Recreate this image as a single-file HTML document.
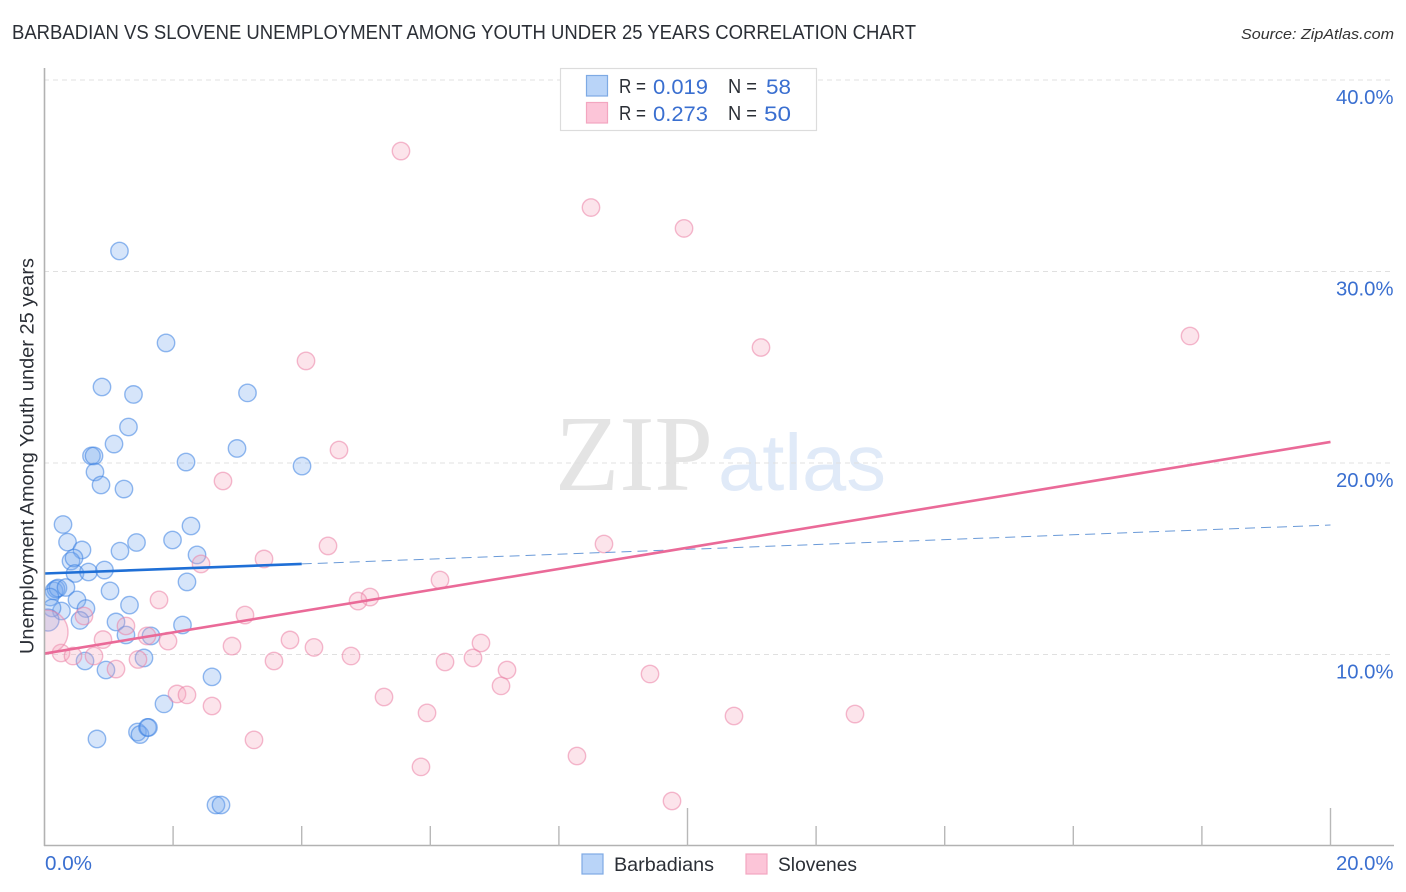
<!DOCTYPE html>
<html lang="en">
<head>
<meta charset="utf-8">
<title>Barbadian vs Slovene Unemployment Correlation Chart</title>
<style>
html,body{margin:0;padding:0;background:#fff;width:1406px;height:892px;overflow:hidden}
svg{display:block;font-family:"Liberation Sans",sans-serif}
</style>
</head>
<body>
<svg id="chart" width="1406" height="892" viewBox="0 0 1406 892" xmlns="http://www.w3.org/2000/svg">
  <defs><clipPath id="plot-clip"><rect x="45" y="60" width="1350" height="785"/></clipPath></defs>
  <text x="12" y="39" font-size="20" fill="#2b2f36" textLength="904" lengthAdjust="spacingAndGlyphs">BARBADIAN VS SLOVENE UNEMPLOYMENT AMONG YOUTH UNDER 25 YEARS CORRELATION CHART</text>
  <text x="1241" y="39" font-size="15" font-style="italic" fill="#333" textLength="153" lengthAdjust="spacingAndGlyphs">Source: ZipAtlas.com</text>
  <text x="555" y="490" font-family="'Liberation Serif',serif" font-size="108" fill="#e4e4e4" textLength="158" lengthAdjust="spacingAndGlyphs">ZIP</text>
  <text x="718" y="490" font-size="80" fill="#e0eaf8" textLength="168" lengthAdjust="spacingAndGlyphs">atlas</text>
  <g id="grid"></g>
  <g id="points" clip-path="url(#plot-clip)"></g>
  <g id="lines"></g>
  <line x1="44.5" y1="68" x2="44.5" y2="846" stroke="#b2b2b2" stroke-width="1.6"/>
  <line x1="44" y1="845.5" x2="1394" y2="845.5" stroke="#b2b2b2" stroke-width="1.6"/>
  <g id="ticks"></g>
  <text transform="translate(33.5,654) rotate(-90)" font-size="19" fill="#2b2f36" textLength="396" lengthAdjust="spacingAndGlyphs">Unemployment Among Youth under 25 years</text>

  <g>
    <rect x="560.5" y="68.5" width="256" height="62" fill="#fff" stroke="#dcdcdc" stroke-width="1.2"/>
    <rect x="586.5" y="75.5" width="21" height="20.5" fill="#b9d4f8" stroke="#7eaae4" stroke-width="1.2"/>
    <rect x="586.5" y="102.5" width="21" height="20.5" fill="#fcc5d8" stroke="#f3a6c0" stroke-width="1.2"/>
    <g font-size="20" fill="#2b2f36">
      <text x="619" y="93" textLength="27" lengthAdjust="spacingAndGlyphs">R =</text>
      <text x="728" y="93" textLength="29" lengthAdjust="spacingAndGlyphs">N =</text>
      <text x="619" y="120" textLength="27" lengthAdjust="spacingAndGlyphs">R =</text>
      <text x="728" y="120" textLength="29" lengthAdjust="spacingAndGlyphs">N =</text>
    </g>
    <g font-size="21" fill="#3a6fd0">
      <text x="653" y="94" textLength="55" lengthAdjust="spacingAndGlyphs">0.019</text>
      <text x="766" y="94" textLength="25" lengthAdjust="spacingAndGlyphs">58</text>
      <text x="653" y="121" textLength="55" lengthAdjust="spacingAndGlyphs">0.273</text>
      <text x="764" y="121" textLength="27" lengthAdjust="spacingAndGlyphs">50</text>
    </g>
  </g>

  <g>
    <rect x="582" y="854" width="21" height="20" fill="#b9d4f8" stroke="#7eaae4" stroke-width="1.2"/>
    <text x="614" y="871" font-size="19.5" fill="#2b2f36" textLength="100" lengthAdjust="spacingAndGlyphs">Barbadians</text>
    <rect x="746" y="854" width="21" height="20" fill="#fcc5d8" stroke="#f3a6c0" stroke-width="1.2"/>
    <text x="778" y="871" font-size="19.5" fill="#2b2f36" textLength="79" lengthAdjust="spacingAndGlyphs">Slovenes</text>
  </g>
</svg>
<script>
const blueX = [1.166,1.890,0.894,1.384,3.157,1.306,1.081,0.731,0.770,2.994,2.201,4.005,0.785,0.879,1.236,0.288,2.278,0.358,0.583,1.174,1.431,1.991,2.372,0.412,0.459,0.474,0.684,0.933,2.216,0.148,0.179,0.210,0.334,1.019,0.086,0.505,1.322,0.264,0.645,0.117,0.054,0.552,1.112,2.146,1.267,1.656,1.547,0.630,0.956,2.605,1.858,0.816,1.446,1.485,1.602,1.617,2.667,2.745];
const blueY = [31.07,26.27,23.97,23.58,23.66,21.88,20.99,20.37,20.37,20.76,20.05,19.84,19.53,18.85,18.64,16.79,16.71,15.87,15.46,15.40,15.85,15.98,15.20,14.88,15.04,14.23,14.31,14.41,13.79,13.32,13.42,13.47,13.50,13.32,13.00,12.85,12.58,12.27,12.40,12.43,11.80,11.78,11.70,11.54,11.02,10.97,9.82,9.66,9.19,8.83,7.42,5.59,5.95,5.82,6.19,6.19,2.14,2.14];
const pinkX = [5.544,8.499,9.946,17.815,11.143,4.067,4.580,2.776,8.701,4.409,3.414,2.434,6.151,5.062,4.876,1.781,3.118,0.614,1.267,3.818,6.788,1.594,1.921,0.910,2.916,4.191,0.257,0.443,0.770,4.767,3.569,6.229,6.664,1.454,1.112,7.193,9.417,7.100,2.061,2.216,5.280,2.605,5.949,10.723,12.605,3.258,8.281,5.855,9.759,0.023];
const pinkY = [36.29,33.34,32.25,26.63,26.03,25.33,20.68,19.06,15.77,15.67,14.99,14.73,13.89,13.00,12.79,12.85,12.06,12.01,11.49,10.76,10.60,10.97,10.70,10.78,10.44,10.37,10.08,9.92,9.92,9.92,9.66,9.61,9.82,9.74,9.24,9.19,8.98,8.36,7.94,7.89,7.78,7.31,6.95,6.79,6.89,5.54,4.70,4.13,2.35,11.17];
const blueHeavyIndex = 40;
const blueHeavyWeight = 1.6;
const pinkHeavyIndex = 49;
const pinkHeavyWeight = 6.4;
const blueFitX = [0, 4, 20];
const blueFitY = [14.23, 14.73, 16.76];
const pinkFitX = [0, 20];
const pinkFitY = [10.05, 21.10];
const yTickValues = [10, 20, 30, 40];
const yTickLabels = ["10.0%", "20.0%", "30.0%", "40.0%"];
const xTickValues = [2, 4, 6, 8, 10, 12, 14, 16, 18, 20];
const xMajorTicks = [10, 20];
const xEdgeValues = [0, 20];
const xEdgeLabels = ["0.0%", "20.0%"];

const NS = "http://www.w3.org/2000/svg";
const xScale = v => 44.5 + v * 64.3;
const yScale = v => 846 - v * 19.15;
const radius = w => 8.7 * Math.sqrt(w);

function make(tag, parent, attrs, text) {
  const el = document.createElementNS(NS, tag);
  for (const k in attrs) el.setAttribute(k, attrs[k]);
  if (text !== undefined) el.textContent = text;
  document.getElementById(parent).appendChild(el);
  return el;
}

yTickValues.forEach((v, i) => {
  const grid = make("line", "grid", {x1: 44, x2: 1394, y1: yScale(v), y2: yScale(v), stroke: "#e0e0e0", "stroke-width": 1, "stroke-dasharray": "5 4"});
  
  
  const label = make("text", "ticks", {x: 1336, y: yScale(v) + 24, "font-size": 20, fill: "#3a6fd0", textLength: 57.5, lengthAdjust: "spacingAndGlyphs"}, yTickLabels[i]);
  
  
});

xTickValues.forEach(v => {
  const top = xMajorTicks.includes(v) ? 808 : 826;
  const tick = make("line", "ticks", {x1: xScale(v), x2: xScale(v), y1: top, y2: 846, stroke: "#b8b8b8", "stroke-width": 1.4});
  
  
});

xEdgeValues.forEach((v, i) => {
  const label = make("text", "ticks", {x: v === 0 ? 45 : 1336, y: 870, "font-size": 20, fill: "#3a6fd0", textLength: v === 0 ? 47 : 57.5, lengthAdjust: "spacingAndGlyphs"}, xEdgeLabels[i]);
  
  
});

blueX.forEach((v, i) => {
  const w = i === blueHeavyIndex ? blueHeavyWeight : 1;
  const c = make("circle", "points", {cx: xScale(v), cy: yScale(blueY[i]), r: radius(w), fill: "rgba(120,170,240,0.3)", stroke: "rgba(60,130,225,0.55)", "stroke-width": 1.4});
  
  
});

pinkX.forEach((v, i) => {
  const w = i === pinkHeavyIndex ? pinkHeavyWeight : 1;
  const c = make("circle", "points", {cx: xScale(v), cy: yScale(pinkY[i]), r: radius(w), fill: "rgba(245,165,190,0.3)", stroke: "rgba(235,130,165,0.55)", "stroke-width": 1.4});
  
  
});

const blueDash = make("line", "lines", {x1: xScale(blueFitX[1]), y1: yScale(blueFitY[1]), x2: xScale(blueFitX[2]), y2: yScale(blueFitY[2]), stroke: "#6a9ad8", "stroke-width": 1, "stroke-dasharray": "10 6"});



const blueSolid = make("line", "lines", {x1: xScale(blueFitX[0]), y1: yScale(blueFitY[0]), x2: xScale(blueFitX[1]), y2: yScale(blueFitY[1]), stroke: "#1f6fd6", "stroke-width": 2.6});



const pinkSolid = make("line", "lines", {x1: xScale(pinkFitX[0]), y1: yScale(pinkFitY[0]), x2: xScale(pinkFitX[1]), y2: yScale(pinkFitY[1]), stroke: "#ea6a98", "stroke-width": 2.6});


</script>
</body>
</html>
